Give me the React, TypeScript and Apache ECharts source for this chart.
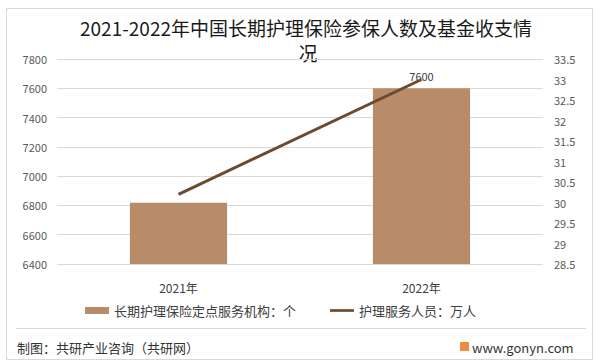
import React, { useEffect, useRef } from "react";
import * as echarts from "echarts";

const categories = ["2021年", "2022年"];
const institutions = [6819, 7600];
const staff = [30.2, 33];
const leftTicks = { min: 6400, max: 7800, interval: 200 };
const rightTicks = { min: 28.5, max: 33.5, interval: 0.5 };
const titleLine1 = "2021-2022年中国长期护理保险参保人数及基金收支情";
const titleLine2 = "况";
const barName = "长期护理保险定点服务机构：个";
const lineName = "护理服务人员：万人";
const footer = "制图：共研产业咨询（共研网）";
const site = "www.gonyn.com";

const FONT = "'Noto Sans CJK SC', 'Noto Sans', sans-serif";

export default function App() {
  const ref = useRef<HTMLDivElement>(null);
  useEffect(() => {
    document.body.style.margin = "0";
    const chart = echarts.init(ref.current!, undefined, { renderer: "svg" });
    chart.setOption({
      animation: false,
      backgroundColor: "#ffffff",
      textStyle: { fontFamily: FONT },
      grid: { left: 57, right: 57, top: 59, bottom: 99 },
      legend: {
        left: 85,
        top: 304,
        padding: 0,
        itemWidth: 24,
        itemHeight: 7,
        itemGap: 34,
        symbolKeepAspect: true,
        textStyle: { fontSize: 13, color: "#404040", fontFamily: FONT },
        data: [
          { name: barName, icon: "rect" },
          { name: lineName, icon: "path://M0,0H27V3H0Z" },
        ],
      },
      xAxis: {
        type: "category",
        data: categories,
        axisLine: { show: false },
        axisTick: { show: false },
        axisLabel: { fontSize: 12, color: "#404040", margin: 17, fontFamily: FONT },
      },
      yAxis: [
        {
          type: "value",
          min: leftTicks.min,
          max: leftTicks.max,
          interval: leftTicks.interval,
          axisLine: { show: false },
          axisTick: { show: false },
          axisLabel: {
            fontSize: 11,
            color: "#595959",
            margin: 10,
            fontFamily: FONT,
            formatter: (v: number) => String(v),
          },
          splitLine: { lineStyle: { color: "#D9D9D9", width: 1 } },
        },
        {
          type: "value",
          position: "right",
          min: rightTicks.min,
          max: rightTicks.max,
          interval: rightTicks.interval,
          axisLine: { show: false },
          axisTick: { show: false },
          axisLabel: {
            fontSize: 11,
            color: "#595959",
            margin: 11,
            fontFamily: FONT,
            formatter: (v: number) => String(v),
          },
          splitLine: { show: false },
        },
      ],
      series: [
        {
          name: barName,
          type: "bar",
          barWidth: "40%",
          itemStyle: { color: "#B98C69" },
          data: institutions.map((v, i) => ({
            value: v,
            label: {
              show: i === institutions.length - 1,
              position: "top",
              distance: 7,
              fontSize: 11,
              color: "#404040",
              fontFamily: FONT,
            },
          })),
        },
        {
          name: lineName,
          type: "line",
          yAxisIndex: 1,
          symbol: "none",
          lineStyle: { color: "#6B4A2F", width: 3 },
          itemStyle: { color: "#6B4A2F" },
          data: staff,
        },
      ],
      graphic: [
        {
          type: "rect",
          z: -1,
          shape: { x: 6.5, y: 8.5, width: 586, height: 351 },
          style: { fill: "none", stroke: "#D9D9D9", lineWidth: 1 },
        },
        {
          type: "text",
          x: 306,
          y: 27,
          style: {
            text: titleLine1,
            align: "center",
            verticalAlign: "middle",
            fontSize: 19,
            fill: "#1a1a1a",
            fontFamily: FONT,
          },
        },
        {
          type: "text",
          x: 308,
          y: 52,
          style: {
            text: titleLine2,
            align: "center",
            verticalAlign: "middle",
            fontSize: 19,
            fill: "#1a1a1a",
            fontFamily: FONT,
          },
        },
        {
          type: "line",
          shape: { x1: 16, y1: 328.5, x2: 586, y2: 328.5 },
          style: { stroke: "#D9D9D9", lineWidth: 1 },
        },
        {
          type: "text",
          x: 17,
          y: 347,
          style: {
            text: footer,
            verticalAlign: "middle",
            fontSize: 13,
            fill: "#333333",
            fontFamily: FONT,
          },
        },
        {
          type: "rect",
          shape: { x: 460, y: 342, width: 9, height: 9 },
          style: { fill: "#F08A3C" },
        },
        {
          type: "text",
          x: 472,
          y: 347,
          style: {
            text: site,
            verticalAlign: "middle",
            fontSize: 13,
            fill: "#333333",
            fontFamily: FONT,
          },
        },
      ],
    });
    return () => chart.dispose();
  }, []);
  return (
    <div
      ref={ref}
      style={{ width: 600, height: 363, position: "absolute", left: 0, top: 0 }}
    />
  );
}
